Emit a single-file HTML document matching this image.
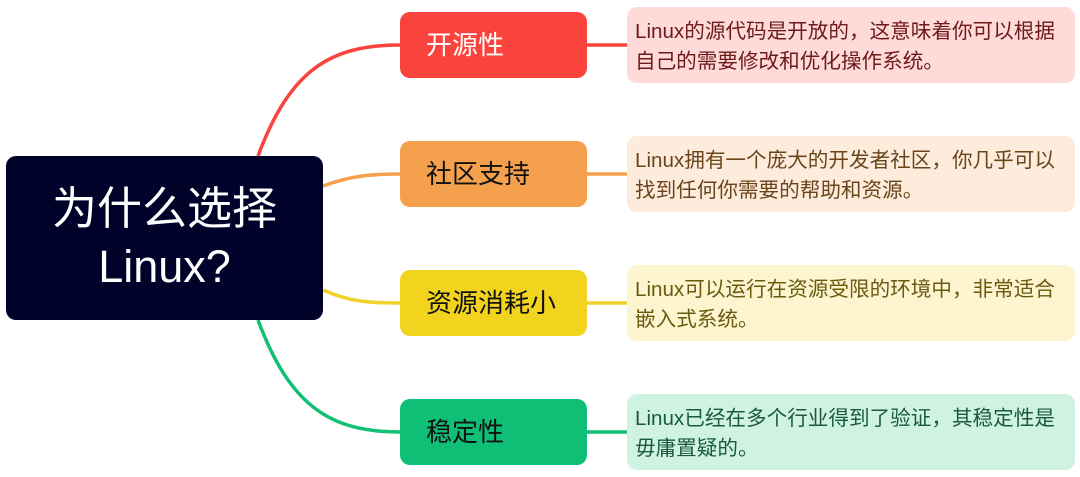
<!DOCTYPE html>
<html><head><meta charset="utf-8"><style>
body{margin:0;width:1080px;height:477px;background:#fff;position:relative;overflow:hidden;font-family:"Liberation Sans","Noto Sans CJK SC",sans-serif}
.b{position:absolute;box-sizing:border-box}
.c{left:6px;top:156px;width:317px;height:164px;background:#000229;border-radius:10px;color:#fff;font-size:45px;line-height:58px;text-align:center;padding-top:24px}
.n{left:400px;width:187px;height:66px;border-radius:10px;font-size:26px;line-height:66px;padding-left:26px}
.d{left:627px;width:448px;height:76px;border-radius:10px;font-size:20.6px;line-height:30px;padding:10px 0 0 8px;white-space:nowrap}
</style></head><body>
<svg class="b" style="left:0;top:0" width="1080" height="477">
<g fill="none" stroke-width="3.5">
<path d="M258 156 C290 70 330 45 400 45" stroke="#fa433c"/>
<path d="M323 186 C350 176 370 174 400 174" stroke="#f5a04c"/>
<path d="M323 290 C350 302 370 303 400 303" stroke="#f2d22a"/>
<path d="M258 320 C290 406 330 432 400 432" stroke="#11bf75"/>
<path d="M587 45H627" stroke="#fa433c"/>
<path d="M587 174H627" stroke="#f5a04c"/>
<path d="M587 303H627" stroke="#f2d22a"/>
<path d="M587 432H627" stroke="#11bf75"/>
</g></svg>
<div class="b c">为什么选择<br>Linux?</div>
<div class="b n" style="top:12px;background:#fa433c;color:#fff">开源性</div>
<div class="b n" style="top:141px;background:#f5a04c;color:#111">社区支持</div>
<div class="b n" style="top:270px;background:#f2d41e;color:#111">资源消耗小</div>
<div class="b n" style="top:399px;background:#0fbf76;color:#111">稳定性</div>
<div class="b d" style="top:7px;background:#fedad8;color:#6e1a1a">Linux的源代码是开放的，这意味着你可以根据<br>自己的需要修改和优化操作系统。</div>
<div class="b d" style="top:136px;background:#fdebdb;color:#6a451c">Linux拥有一个庞大的开发者社区，你几乎可以<br>找到任何你需要的帮助和资源。</div>
<div class="b d" style="top:265px;background:#fdf5d0;color:#6a5a10">Linux可以运行在资源受限的环境中，非常适合<br>嵌入式系统。</div>
<div class="b d" style="top:394px;background:#cff2e3;color:#1a5a3c">Linux已经在多个行业得到了验证，其稳定性是<br>毋庸置疑的。</div>
</body></html>
